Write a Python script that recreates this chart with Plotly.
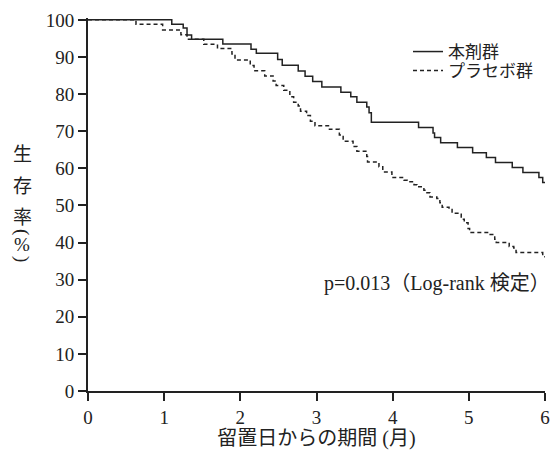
import plotly.graph_objects as go

# ---- data ----
months_active = [0, 1.10, 1.25, 1.30, 1.36, 1.77, 2.14, 2.21, 2.49, 2.55, 2.76, 2.85, 2.95,
                 3.07, 3.32, 3.45, 3.53, 3.66, 3.69, 3.72, 4.34, 4.53, 4.55, 4.63, 4.85,
                 5.05, 5.23, 5.35, 5.57, 5.71, 5.92, 5.97, 6.0]
surv_active = [100, 98.8, 97.8, 95.9, 94.8, 93.5, 92.1, 91.0, 89.3, 87.8, 86.2, 84.8, 83.4,
               81.9, 80.5, 79.3, 77.8, 76.5, 75.0, 72.4, 71.0, 69.5, 68.3, 66.9, 65.6,
               64.2, 62.9, 61.6, 60.2, 58.9, 57.5, 56.2, 56.2]

months_placebo = [0, 0.63, 0.98, 1.22, 1.30, 1.52, 1.70, 1.89, 1.93, 2.13, 2.18, 2.32, 2.43,
                  2.47, 2.57, 2.65, 2.70, 2.76, 2.79, 2.87, 2.92, 2.98, 3.17, 3.30, 3.35,
                  3.48, 3.53, 3.66, 3.67, 3.82, 3.87, 3.99, 4.15, 4.19, 4.28, 4.32, 4.41,
                  4.45, 4.49, 4.58, 4.62, 4.65, 4.74, 4.78, 4.87, 4.90, 4.94, 4.99, 5.01,
                  5.28, 5.34, 5.36, 5.53, 5.59, 5.62, 5.97, 6.0]
surv_placebo = [100, 98.8, 97.3, 96.0, 94.8, 93.4, 92.3, 90.8, 89.2, 87.7, 86.3, 84.9, 83.5,
                82.3, 81.0, 79.3, 77.8, 76.8, 75.4, 74.2, 72.7, 71.5, 70.5, 69.0, 67.3,
                65.9, 64.6, 63.2, 61.7, 60.4, 59.0, 57.5, 56.8, 56.4, 55.6, 55.0, 54.1,
                53.4, 52.3, 51.9, 50.7, 49.5, 48.9, 47.9, 47.6, 46.3, 45.3, 43.8, 42.7,
                42.2, 40.9, 40.0, 38.9, 38.5, 37.3, 36.2, 36.2]

series_names = ["本剤群", "プラセボ群"]
x_ticks = [0, 1, 2, 3, 4, 5, 6]
y_ticks = [0, 10, 20, 30, 40, 50, 60, 70, 80, 90, 100]
x_title = "留置日からの期間 (月)"
y_title_chars = ["生", "存", "率", "(", "%", ")"]
p_text = "p=0.013（Log-rank 検定）"

# ---- layout geometry ----
W, H = 552, 450
ML, MR, MT, MB = 88, 7, 18, 59
PW, PH = W - ML - MR, H - MT - MB


def px_x(px):
    return (px - ML) / PW


def px_y(py):
    return (H - MB - py) / PH


INK = "#222222"
SERIF = "Liberation Serif, Noto Sans CJK JP"

fig = go.Figure()
fig.add_trace(go.Scatter(x=months_active, y=surv_active, mode="lines", name=series_names[0],
                         legend="legend",
                         line=dict(color=INK, width=1.5, shape="hv")))
fig.add_trace(go.Scatter(x=months_placebo, y=surv_placebo, mode="lines", name=series_names[1],
                         legend="legend2",
                         line=dict(color=INK, width=1.5, shape="hv", dash="4px,3px")))

axis_common = dict(showline=True, linecolor=INK, linewidth=2, ticks="outside", ticklen=8,
                   tickwidth=2, tickcolor=INK, showgrid=False, zeroline=False,
                   automargin=False,
                   tickfont=dict(family=SERIF, size=19, color=INK))

fig.update_xaxes(range=[0, 6], tickvals=x_ticks, ticktext=[str(v) for v in x_ticks],
                 ticklabeloverflow="allow",
                 title=dict(text=x_title, font=dict(family=SERIF, size=20, color=INK), standoff=8),
                 **axis_common)
fig.update_yaxes(range=[0, 100.5], tickvals=y_ticks, ticktext=[str(v) for v in y_ticks],
                 **axis_common)

# vertical y-axis title: upright characters, parentheses turned sideways
y_char_pos = [154, 186, 217, 232, 245, 259]
y_char_angle = [0, 0, 0, 90, 0, 90]
annotations = []
for ch, py, ang in zip(y_title_chars, y_char_pos, y_char_angle):
    annotations.append(dict(text=ch, xref="paper", yref="paper", x=px_x(22), y=px_y(py),
                            xanchor="center", yanchor="middle", showarrow=False, textangle=ang,
                            font=dict(family=SERIF, size=19, color=INK)))
annotations.append(dict(text=p_text, xref="paper", yref="paper", x=px_x(552), y=px_y(283),
                        xanchor="right", yanchor="middle", showarrow=False,
                        font=dict(family=SERIF, size=20, color=INK)))

legend_common = dict(xanchor="left", yanchor="top", bgcolor="rgba(0,0,0,0)",
                     font=dict(family=SERIF, size=17, color=INK), itemwidth=30)

fig.update_layout(
    width=W, height=H,
    margin=dict(l=ML, r=MR, t=MT, b=MB, autoexpand=False),
    paper_bgcolor="white", plot_bgcolor="white",
    showlegend=True,
    legend=dict(x=px_x(408), y=px_y(34), **legend_common),
    legend2=dict(x=px_x(408), y=px_y(53), **legend_common),
    annotations=annotations,
)

fig.write_html("out.html")
